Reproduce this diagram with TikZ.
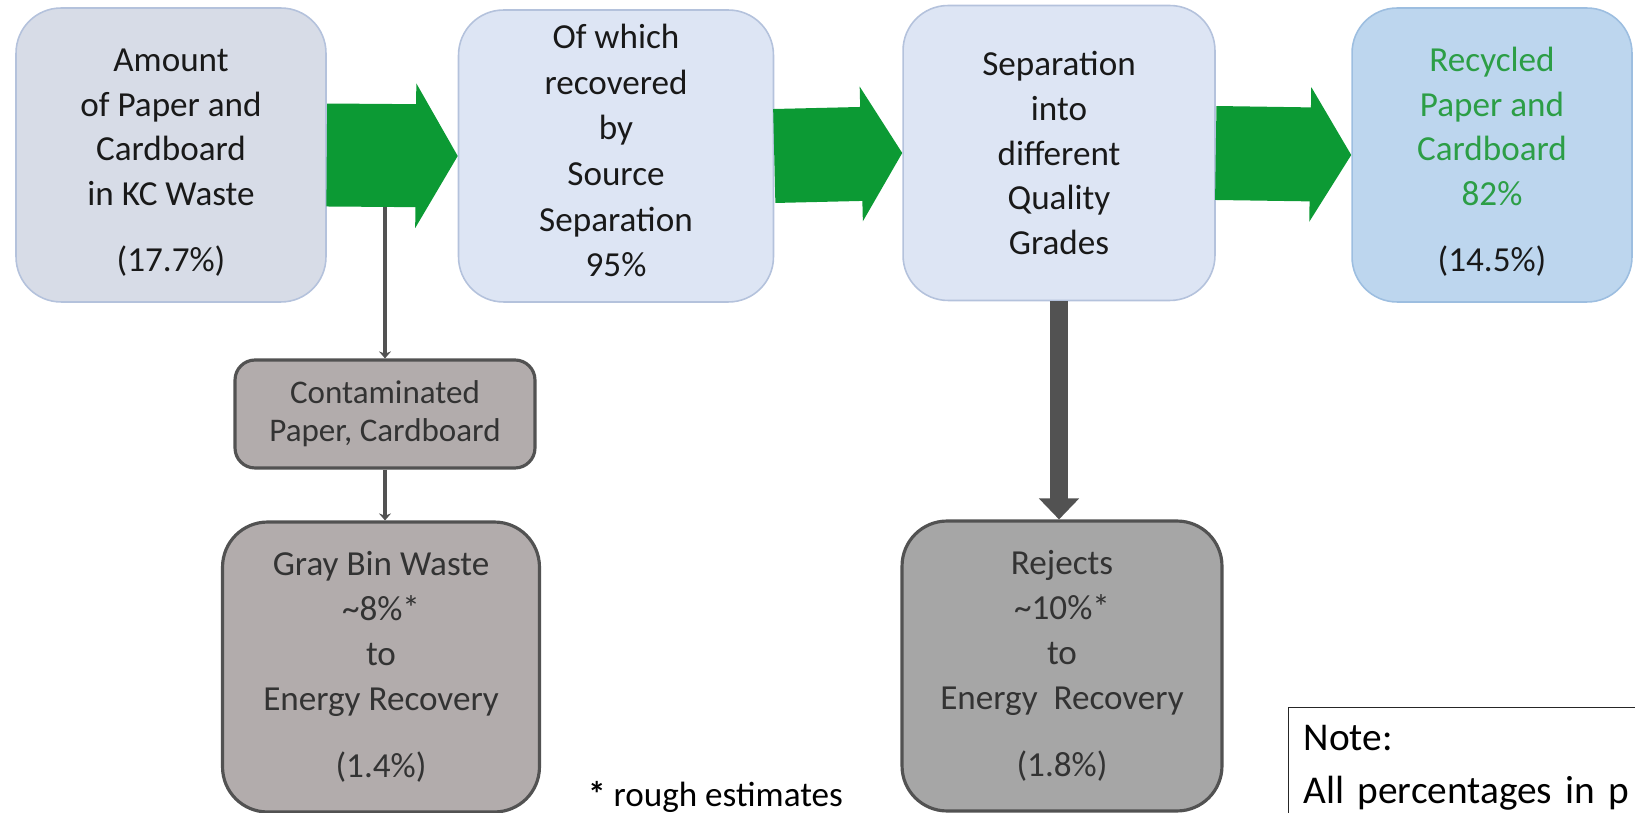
\documentclass[tikz,border=0pt]{standalone}
\usepackage{fontspec}
\setmainfont{Carlito}
\usepackage{tikz}
\usetikzlibrary{positioning,arrows.meta}
\usepackage{xcolor}
\definecolor{boxfill}{RGB}{215,220,231}
\definecolor{boxfillb}{RGB}{221,229,244}
\definecolor{boxline}{RGB}{180,194,220}
\definecolor{outfill}{RGB}{189,214,238}
\definecolor{outline}{RGB}{157,190,224}
\definecolor{flowgreen}{RGB}{12,154,52}
\definecolor{textgreen}{RGB}{44,158,70}
\definecolor{wastefill}{RGB}{178,172,172}
\definecolor{rejfill}{RGB}{166,166,166}
\definecolor{darkline}{RGB}{82,82,82}

\begin{document}
\begin{tikzpicture}[x=0.02cm,y=-0.02cm,
  flowbox/.style={draw=boxline,line width=0.9pt,fill=boxfillb,rounded corners=0.9cm,
    align=center,inner sep=0pt,font=\fontsize{20}{25.5}\selectfont,text=black!90},
  wastebox/.style={draw=darkline,line width=1.8pt,fill=wastefill,rounded corners=0.9cm,
    align=center,inner sep=0pt,font=\fontsize{20}{25.5}\selectfont,text=black!80},
  bigflow/.style={flowgreen,line width=1.88cm,-{Triangle[length=0.82cm,width=2.66cm]}},
  thinflow/.style={darkline,line width=2.2pt,-{Stealth[length=0.14cm,width=0.24cm]}},
  rejflow/.style={darkline,line width=0.36cm,-{Triangle[length=0.42cm,width=0.78cm]}}]
\useasboundingbox (0,0) rectangle (1635,813);
\node[flowbox,fill=boxfill,minimum width=6.2cm,minimum height=5.88cm] (amount) at (171,155)
  {\rule{0pt}{0.75cm}Amount\\of Paper and\\Cardboard\\in KC Waste\\[0.42cm](17.7\%)};
\node[flowbox,font=\fontsize{20}{26}\selectfont,minimum width=6.3cm,minimum height=5.84cm] (recovered) at (616,156)
  {Of which\\recovered\\by\\Source\\Separation\\95\%\rule[-0.22cm]{0pt}{0.22cm}};
\node[flowbox,minimum width=6.24cm,minimum height=5.9cm] (grades) at (1059,153)
  {Separation\\into\\different\\Quality\\Grades};
\node[flowbox,draw=outline,fill=outfill,minimum width=5.6cm,minimum height=5.88cm] (recycled) at (1492,155)
  {\rule{0pt}{0.75cm}\textcolor{textgreen}{Recycled}\\\textcolor{textgreen}{Paper and}\\\textcolor{textgreen}{Cardboard}\\\textcolor{textgreen}{82\%}\\[0.42cm](14.5\%)};
\node[wastebox,rounded corners=0.4cm,minimum width=6cm,minimum height=2.16cm,
  font=\fontsize{18.8}{21.8}\selectfont] (contam) at (385,414)
  {Contaminated\\Paper, Cardboard};
\node[wastebox,minimum width=6.34cm,minimum height=5.8cm] (graybin) at (381,667)
  {Gray Bin Waste\\\textasciitilde8\%*\\to\\Energy Recovery\\[0.45cm](1.4\%)};
\node[wastebox,fill=rejfill,minimum width=6.4cm,minimum height=5.8cm] (rejects) at (1062,666)
  {Rejects\\\textasciitilde10\%*\\to\\Energy\ \ Recovery\\[0.45cm](1.8\%)};
\node[font=\fontsize{20}{23}\selectfont,anchor=west] (rough) at (582,797) {\textbf{*} rough estimates};
\node[draw=black!85,line width=0.8pt,anchor=north west,align=left,inner xsep=0.3cm,inner ysep=0.36cm,
  text width=7.5cm,minimum height=2.4cm,font=\fontsize{22.4}{30}\selectfont] (note) at (1288,707)
  {Note:\\All percentages in p};
\coordinate (split) at (contam.north |- amount.center);
\draw[thinflow] (split) -- (contam.north);
\draw[thinflow] (contam.south) -- (contam.south |- graybin.north);
\draw[bigflow,line width=2.06cm,-{Triangle[length=0.84cm,width=2.86cm]}] (amount.east) -- (recovered.west);
\draw[bigflow] (recovered.east) -- (grades.west);
\draw[bigflow] (grades.east) -- (recycled.west);
\draw[rejflow] (grades.south) -- (grades.south |- rejects.north);
\end{tikzpicture}
\end{document}
